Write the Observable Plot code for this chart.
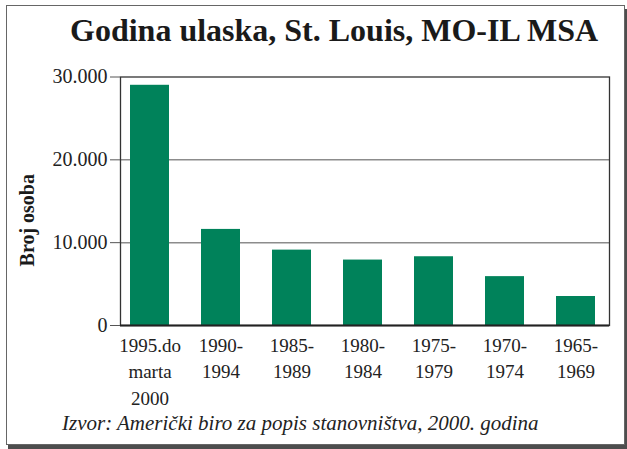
<!DOCTYPE html>
<html>
<head>
<meta charset="utf-8">
<script src="https://cdn.jsdelivr.net/npm/d3@7"></script>
<script src="https://cdn.jsdelivr.net/npm/@observablehq/plot@0.6"></script>
<style>
  html, body { margin: 0; padding: 0; background: #fff; }
  #wrap { position: relative; width: 627px; height: 449px; overflow: hidden; font-family: "Liberation Serif", "Times New Roman", serif; }
  #box { position: absolute; left: 6px; top: 5px; width: 619px; height: 440px; box-sizing: border-box;
         border: 1.5px solid #666; box-shadow: 2px 4px 0 #4d4d4d; background: #fff; }
  #title { position: absolute; left: 70px; top: 14px; font-size: 32px; line-height: 32px; font-weight: bold;
           color: #1a1a1a; white-space: nowrap; margin: 0; }
  #chart { position: absolute; left: 0; top: 56px; }
  #chart svg text { font-family: "Liberation Serif", "Times New Roman", serif; }
  #caption { position: absolute; left: 62px; top: 413px; font-size: 21px; line-height: 21px; font-style: italic;
             font-family: "Liberation Serif", "Times New Roman", serif; color: #222; white-space: nowrap; }
</style>
</head>
<body>
<div id="wrap">
  <div id="box"></div>
  <div id="title"></div>
  <div id="chart"></div>
  <div id="caption"></div>
</div>
<script>
const titleText = "Godina ulaska, St. Louis, MO-IL MSA";
const captionText = "Izvor: Američki biro za popis stanovništva, 2000. godina";
const yLabel = "Broj osoba";
const categories = ["1995.do\nmarta\n2000", "1990-\n1994", "1985-\n1989", "1980-\n1984", "1975-\n1979", "1970-\n1974", "1965-\n1969"];
const values = [29000, 11600, 9100, 7900, 8300, 5900, 3500];
const yTicks = [0, 10000, 20000, 30000];
const gridTicks = [10000, 20000];

document.getElementById("title").textContent = titleText;
document.getElementById("caption").textContent = captionText;

const data = categories.map((c, i) => ({cat: c, value: values[i]}));
const fmt = d => d3.format(",")(d).replace(/,/g, ".");

const chart = Plot.plot({
  width: 627,
  height: 352,
  marginLeft: 120,
  marginRight: 18,
  marginTop: 20.5,
  marginBottom: 83,
  style: {fontFamily: "'Liberation Serif', 'Times New Roman', serif", fontSize: "19px", color: "#222", background: "transparent"},
  x: {type: "band", domain: categories, paddingInner: 0.45, paddingOuter: 0.225, insetLeft: -7, insetRight: -4},
  y: {domain: [0, 30000]},
  marks: [
    Plot.gridY(gridTicks, {stroke: "#8c8c8c", strokeOpacity: 1, strokeWidth: 1.5}),
    Plot.barY(data, {x: "cat", y: "value", fill: "#00825A"}),
    Plot.frame({stroke: "#333", strokeWidth: 1.3}),
    Plot.ruleY([0], {stroke: "#222", strokeWidth: 2}),
    Plot.axisY(yTicks, {tickSize: 10, tickPadding: 3, tickFormat: fmt, fontSize: 20, label: null, stroke: "#555", fill: "#222"}),
    Plot.axisX({tickSize: 0, tickPadding: 8, fontSize: 19, lineHeight: 1.38, label: null, fill: "#222"}),
    Plot.text([yLabel], {text: d => d, frameAnchor: "left", textAnchor: "middle", rotate: -90, dx: -93, dy: 19, fontWeight: "bold", fontSize: 20, fill: "#1a1a1a"})
  ]
});
document.getElementById("chart").appendChild(chart);
</script>
</body>
</html>
